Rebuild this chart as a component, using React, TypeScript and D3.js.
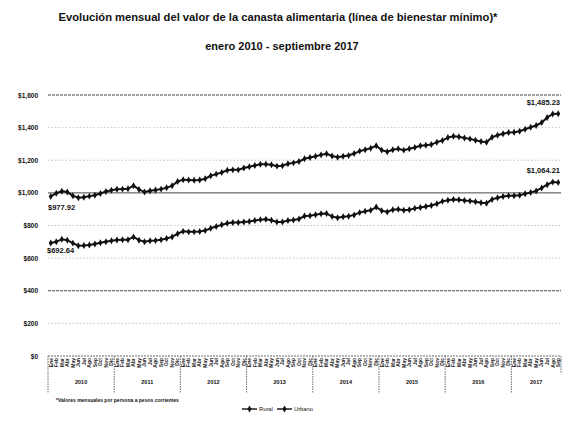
import React from "react";
import * as d3 from "d3";

const years = ["2010", "2011", "2012", "2013", "2014", "2015", "2016", "2017"];
const monthNames = ["Ene", "Feb", "Mar", "Abr", "May", "Jun", "Jul", "Ago", "Sep", "Oct", "Nov", "Dic"];
const yTicks = [0, 200, 400, 600, 800, 1000, 1200, 1400, 1600];

const urbano = [
  977.92, 998, 1010, 1005, 982, 970, 973, 980, 986, 996, 1008, 1016,
  1022, 1023, 1025, 1044, 1021, 1005, 1013, 1017, 1023, 1031, 1044, 1070,
  1081, 1079, 1077, 1079, 1087, 1105, 1115, 1125, 1139, 1141, 1141, 1152,
  1160, 1168, 1176, 1176, 1172, 1164, 1166, 1178, 1184, 1192, 1209, 1217,
  1225, 1233, 1240, 1226, 1218, 1225, 1229, 1241, 1256, 1264, 1274, 1289,
  1262, 1252, 1264, 1270, 1262, 1270, 1278, 1289, 1292, 1296, 1311, 1321,
  1339, 1347, 1344, 1337, 1331, 1323, 1315, 1311, 1341, 1353, 1362, 1370,
  1372, 1378, 1390, 1402, 1413, 1431, 1462, 1484, 1485.23,
];

const rural = [
  692.64, 700, 716, 710, 692, 676, 677, 681, 687, 694, 701, 707,
  711, 712, 712, 730, 710, 700, 706, 708, 713, 720, 730, 750,
  764, 761, 761, 763, 769, 783, 794, 804, 814, 818, 818, 822,
  824, 830, 836, 838, 832, 822, 822, 830, 834, 840, 858, 860,
  866, 872, 874, 855, 847, 853, 857, 865, 879, 887, 893, 913,
  891, 883, 897, 899, 893, 897, 905, 911, 917, 923, 933, 948,
  955, 960, 958, 953, 950, 945, 940, 937, 960, 970, 978, 982,
  982, 986, 994, 1002, 1012, 1030, 1050, 1066, 1064.21,
];

const W = 564;
const H = 423;

export default function App() {
  const n = urbano.length;
  const idx = d3.range(n);
  const left = 48, right = 561, top = 95, bottom = 356;
  const x = d3.scaleBand<number>().domain(idx).range([left, right]);
  const y = d3.scaleLinear().domain([0, 1600]).range([bottom, top]);
  const cx = (i: number) => (x(i) as number) + x.bandwidth() / 2;
  const line = d3.line<number>().x((_, i) => cx(i)).y((v) => y(v));
  const fmt = (v: number) => "$" + d3.format(",.2f")(v);
  const fmtTick = (v: number) => "$" + d3.format(",")(v);
  const diamond = d3.symbol().type(d3.symbolDiamond).size(14)();

  const axisTop = 356, monthBottom = 373, axisBottom = 393;

  const series = [urbano, rural];

  return (
    <svg width={W} height={H} style={{ position: "absolute", left: 0, top: 0, background: "#fff" }}
      fontFamily="'Liberation Sans', Arial, sans-serif">
      <rect width={W} height={H} fill="#fff" />
      <text x={278} y={21} textAnchor="middle" fontSize={11.2} fontWeight="bold" fill="#111">
        Evolución mensual del valor de la canasta alimentaria (línea de bienestar mínimo)*
      </text>
      <text x={282} y={50} textAnchor="middle" fontSize={11} fontWeight="bold" fill="#111">
        enero 2010 - septiembre 2017
      </text>

      {yTicks.map((t) => {
        const dark = t === 1000 || t === 400 || t === 1600;
        return (
          <g key={t}>
            {t > 0 && (
              <line x1={left} x2={right} y1={y(t)} y2={y(t)}
                stroke={dark ? "#333" : "#aaa"} strokeWidth={dark ? 0.9 : 0.7}
                strokeDasharray={t === 1000 ? undefined : dark ? "3,1" : "1.5,2"} />
            )}
            <text x={38} y={y(t) + 2.5} textAnchor="end" fontSize={6.5} fontWeight="bold" fill="#111">
              {fmtTick(t)}
            </text>
          </g>
        );
      })}

      {/* category axis box */}
      <line x1={left} x2={right} y1={axisTop} y2={axisTop} stroke="#444" strokeWidth={0.8} strokeDasharray="2,1" />
      <line x1={left} x2={left} y1={axisTop} y2={axisBottom} stroke="#444" strokeWidth={0.8} strokeDasharray="1.5,1" />
      <line x1={right} x2={right} y1={axisTop} y2={monthBottom} stroke="#444" strokeWidth={0.8} strokeDasharray="1.5,1" />
      {years.map((yr, k) => {
        const i0 = k * 12;
        const i1 = Math.min(n, (k + 1) * 12);
        const xs = x(i0) as number;
        const xe = i1 >= n ? right : (x(i1) as number);
        return (
          <g key={yr}>
            {k > 0 && (
              <line x1={xs} x2={xs} y1={axisTop} y2={axisBottom} stroke="#444" strokeWidth={0.8} strokeDasharray="1.5,1" />
            )}
            <text x={(xs + xe) / 2} y={384} textAnchor="middle" fontSize={5.5} fontWeight="bold" fill="#111">
              {yr}
            </text>
          </g>
        );
      })}
      {idx.map((i) => (
        <text key={i} transform={`translate(${cx(i) + 1.8},${axisTop + 2}) rotate(-90)`}
          textAnchor="end" fontSize={5} fontWeight="bold" fill="#222">
          {monthNames[i % 12]}
        </text>
      ))}

      {series.map((s, k) => (
        <g key={k}>
          <path d={line(s) || ""} fill="none" stroke="#111" strokeWidth={2} />
          {s.map((v, i) => (
            <path key={i} d={diamond || ""} transform={`translate(${cx(i)},${y(v)})`} fill="#111" />
          ))}
        </g>
      ))}

      <text x={48} y={y(urbano[0]) + 14} fontSize={7.5} fontWeight="bold" fill="#111">{fmt(urbano[0])}</text>
      <text x={47} y={y(rural[0]) + 10} fontSize={7.5} fontWeight="bold" fill="#111">{fmt(rural[0])}</text>
      <text x={560} y={y(urbano[n - 1]) - 9} textAnchor="end" fontSize={7.5} fontWeight="bold" fill="#111">{fmt(urbano[n - 1])}</text>
      <text x={560} y={y(rural[n - 1]) - 9} textAnchor="end" fontSize={7.5} fontWeight="bold" fill="#111">{fmt(rural[n - 1])}</text>

      <text x={56} y={402} fontSize={5} fontWeight="bold" fill="#111">
        *Valores mensuales por persona a pesos corrientes
      </text>
      <g>
        <line x1={242} x2={257} y1={409} y2={409} stroke="#111" strokeWidth={1.4} />
        <path d={diamond || ""} transform="translate(249.5,409)" fill="#111" />
        <text x={259} y={411} fontSize={5.8} fill="#111">Rural</text>
        <line x1={277} x2={292} y1={409} y2={409} stroke="#111" strokeWidth={1.4} />
        <path d={diamond || ""} transform="translate(284.5,409)" fill="#111" />
        <text x={294} y={411} fontSize={5.8} fill="#111">Urbano</text>
      </g>
    </svg>
  );
}
